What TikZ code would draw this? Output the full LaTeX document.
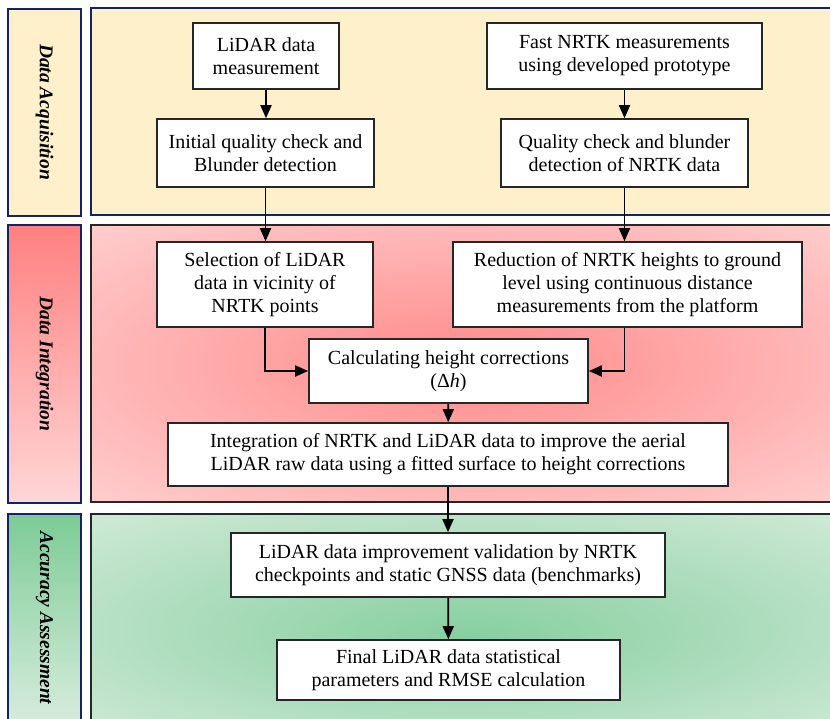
\documentclass[tikz,border=0pt]{standalone}
\usepackage{fontspec}
\setmainfont{Liberation Serif}
\usetikzlibrary{arrows.meta}

\definecolor{acqfill}{RGB}{255,240,204}
\definecolor{navyline}{RGB}{20,35,105}
\definecolor{redtop}{RGB}{255,128,128}
\definecolor{redin}{RGB}{255,138,138}
\definecolor{redout}{RGB}{255,214,214}
\definecolor{greentop}{RGB}{125,203,150}
\definecolor{greenin}{RGB}{135,207,160}
\definecolor{greenout}{RGB}{214,236,220}
\pgfdeclareradialshading{redglow}{\pgfpoint{0bp}{0bp}}{color(0bp)=(redin); color(40bp)=(redout); color(50bp)=(redout)}
\pgfdeclareradialshading{greenglow}{\pgfpoint{0bp}{-4bp}}{color(0bp)=(greenin); color(40bp)=(greenout); color(50bp)=(greenout)}

\begin{document}
\begin{tikzpicture}[x=1pt, y=-1pt,
	stagebox/.style={draw=navyline, line width=2pt},
	panel/.style={draw=black!85, line width=2pt},
	stagelabel/.style={rotate=-90, font=\fontsize{19.5}{23}\selectfont\bfseries\itshape},
	procbox/.style={draw=black!85, line width=1.6pt, fill=white, align=center, inner sep=0pt, font=\fontsize{20}{23}\selectfont},
	flow/.style={-{Triangle[length=13pt,width=11pt]}, line width=1.8pt}]
	\clip (0,0) rectangle (830,719);
	\draw[stagebox, fill=acqfill] (8,9) rectangle (81,216);
	\draw[stagebox, top color=redtop, bottom color=redout] (8,225) rectangle (81,503);
	\draw[stagebox, top color=greentop, bottom color=greenout] (8,514) rectangle (81,722);
	\draw[line width=2pt, draw=navyline, fill=acqfill] (91,8) rectangle (845,215);
	\draw[panel, shade, shading=redglow] (91,225) rectangle (845,502);
	\draw[panel, shade, shading=greenglow] (91,514) rectangle (845,726);
	\node[stagelabel] (acq) at (44.5,112) {Data Acquisition};
	\node[stagelabel] (integ) at (44.5,364) {Data Integration};
	\node[stagelabel] (assess) at (44.5,618) {Accuracy Assessment};
	\node[procbox, minimum width=146, minimum height=66] (lidar) at (266,56) {LiDAR data\\measurement};
	\node[procbox, minimum width=275, minimum height=66] (fast) at (624.5,56) {Fast NRTK measurements\\using developed prototype};
	\node[procbox, minimum width=217, minimum height=68] (initchk) at (265.5,153) {Initial quality check and\\Blunder detection};
	\node[procbox, minimum width=247, minimum height=68] (qualchk) at (624.5,153) {Quality check and blunder\\detection of NRTK data};
	\node[procbox, minimum width=216, minimum height=85] (select) at (265,284.5) {Selection of LiDAR\\data in vicinity of\\NRTK points};
	\node[procbox, minimum width=349, minimum height=85] (reduce) at (627.5,284.5) {Reduction of NRTK heights to ground\\level using continuous distance\\measurements from the platform};
	\node[procbox, minimum width=279, minimum height=64] (calc) at (448.5,371) {Calculating height corrections\\(Δ\textit{h})};
	\node[procbox, minimum width=560, minimum height=63] (integrate) at (448,454.5) {Integration of NRTK and LiDAR data to improve the aerial\\LiDAR raw data using a fitted surface to height corrections};
	\node[procbox, minimum width=434, minimum height=64] (validate) at (448,565) {LiDAR data improvement validation by NRTK\\checkpoints and static GNSS data (benchmarks)};
	\node[procbox, minimum width=343, minimum height=60] (final) at (448.5,670) {Final LiDAR data statistical\\parameters and RMSE calculation};
	\draw[flow] (lidar) -- (lidar |- initchk.north);
	\draw[flow] (fast) -- (fast |- qualchk.north);
	\draw[flow] (initchk.south) -- (initchk.south |- select.north);
	\draw[flow] (qualchk.south) -- (qualchk.south |- reduce.north);
	\draw[flow] (select.south) |- (calc.west);
	\draw[flow] (reduce.south -| qualchk) |- (calc.east);
	\draw[flow] (calc) -- (integrate);
	\draw[flow] (integrate) -- (validate);
	\draw[flow] (validate) -- (final);
\end{tikzpicture}
\end{document}
